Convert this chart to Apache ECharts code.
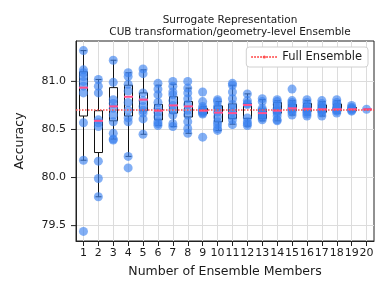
<!DOCTYPE html>
<html><head><meta charset="utf-8">
<script src="https://cdn.jsdelivr.net/npm/echarts@6/dist/echarts.min.js"></script>
<style>html,body{margin:0;padding:0;background:#fff}#c{width:388px;height:295px}</style>
</head><body><div id="c"></div>
<script>
const categories = ['1','2','3','4','5','6','7','8','9','10','11','12','13','14','15','16','17','18','19','20'];
const whiskerLow  = [80.18, 79.80, 80.40, 80.22, 80.45, 80.54, 80.53, 80.46, 80.655, 80.49, 80.555, 80.535, 80.59, 80.59, 80.65, 80.65, 80.64, 80.67, 80.685, 80.71];
const quartile1   = [80.64, 80.26, 80.59, 80.64, 80.695, 80.60, 80.67, 80.63, 80.665, 80.58, 80.615, 80.615, 80.615, 80.67, 80.695, 80.69, 80.68, 80.695, 80.695, 80.71];
const medians     = [80.935, 80.59, 80.74, 80.84, 80.81, 80.695, 80.75, 80.74, 80.695, 80.675, 80.67, 80.755, 80.67, 80.695, 80.72, 80.715, 80.71, 80.71, 80.71, 80.71];
const quartile3   = [81.10, 80.695, 80.935, 80.96, 80.88, 80.76, 80.84, 80.79, 80.72, 80.745, 80.765, 80.77, 80.71, 80.78, 80.76, 80.77, 80.755, 80.765, 80.73, 80.71];
const whiskerHigh = [81.32, 81.02, 81.22, 81.09, 81.12, 80.96, 80.97, 80.93, 80.74, 80.79, 80.96, 80.87, 80.81, 80.80, 80.80, 80.80, 80.79, 80.80, 80.74, 80.71];
const memberAccuracies = [
  [81.32, 81.12, 81.09, 81.05, 81.0, 80.95, 80.88, 80.57, 80.18, 79.44],
  [81.02, 80.95, 80.88, 80.6, 80.57, 80.53, 80.17, 79.99, 79.8],
  [81.22, 80.99, 80.81, 80.77, 80.72, 80.65, 80.58, 80.46, 80.40, 80.39],
  [81.09, 81.05, 80.97, 80.9, 80.78, 80.7, 80.62, 80.58, 80.22, 80.10],
  [81.13, 81.08, 80.88, 80.80, 80.74, 80.70, 80.67, 80.61, 80.45],
  [80.98, 80.92, 80.86, 80.78, 80.72, 80.68, 80.63, 80.58, 80.56, 80.54],
  [81.0, 80.95, 80.89, 80.86, 80.80, 80.75, 80.70, 80.65, 80.56, 80.53],
  [81.0, 80.93, 80.88, 80.82, 80.76, 80.70, 80.65, 80.58, 80.51, 80.46],
  [80.89, 80.79, 80.74, 80.72, 80.70, 80.69, 80.68, 80.67, 80.66, 80.42],
  [80.81, 80.79, 80.74, 80.72, 80.68, 80.63, 80.58, 80.55, 80.51, 80.49],
  [80.98, 80.96, 80.89, 80.82, 80.76, 80.72, 80.68, 80.64, 80.60, 80.55],
  [80.87, 80.80, 80.77, 80.76, 80.62, 80.58, 80.56, 80.54],
  [80.82, 80.79, 80.72, 80.70, 80.68, 80.66, 80.64, 80.62, 80.60],
  [80.81, 80.79, 80.76, 80.72, 80.70, 80.69, 80.67, 80.64, 80.60, 80.59],
  [80.92, 80.80, 80.78, 80.76, 80.74, 80.72, 80.71, 80.70, 80.68, 80.65],
  [80.81, 80.78, 80.75, 80.73, 80.71, 80.70, 80.68, 80.66, 80.64],
  [80.80, 80.77, 80.75, 80.73, 80.71, 80.70, 80.69, 80.67, 80.64],
  [80.81, 80.78, 80.76, 80.73, 80.72, 80.71, 80.70, 80.69, 80.67],
  [80.75, 80.73, 80.72, 80.71, 80.70, 80.69],
  [80.71]
];
const fullEnsemble = 80.705;
const yTicks = [79.5, 80.0, 80.5, 81.0];

const FONT = 'DejaVu Sans';
const boxData = categories.map((c, i) => [i, whiskerLow[i], quartile1[i], medians[i], quartile3[i], whiskerHigh[i]]);
const medianData = categories.map((c, i) => [i, medians[i]]);
const pointData = [];
memberAccuracies.forEach((arr, i) => arr.forEach(v => pointData.push([i, v])));

const chart = echarts.init(document.getElementById('c'), null, {renderer: 'canvas'});
chart.setOption({
  animation: false,
  backgroundColor: '#fff',
  title: {
    text: 'Surrogate Representation\nCUB transformation/geometry-level Ensemble',
    left: 225, top: 9, textAlign: 'center',
    textStyle: {fontFamily: FONT, fontSize: 10.5, fontWeight: 'normal', color: '#1a1a1a', lineHeight: 12.5}
  },
  legend: {
    data: ['Full Ensemble'],
    right: 20, top: 47,
    itemWidth: 26, itemHeight: 4, itemGap: 4,
    padding: [4, 6, 4, 4],
    backgroundColor: '#fff', borderColor: '#d0d0d0', borderWidth: 1, borderRadius: 3,
    textStyle: {fontFamily: FONT, fontSize: 11.5, color: '#1a1a1a'}
  },
  grid: {left: 76, right: 14, top: 41, bottom: 54, show: true, borderColor: '#222', borderWidth: 1, backgroundColor: '#fff'},
  xAxis: {
    type: 'category', data: categories, boundaryGap: true,
    name: 'Number of Ensemble Members', nameLocation: 'middle', nameGap: 24,
    nameTextStyle: {fontFamily: FONT, fontSize: 12.5, color: '#1a1a1a'},
    axisLine: {show: true, lineStyle: {color: '#222'}},
    axisTick: {show: true, alignWithLabel: true, length: 5, lineStyle: {color: '#222'}},
    axisLabel: {interval: 0, margin: 7, fontFamily: FONT, fontSize: 11, color: '#1a1a1a'},
    splitLine: {show: true, alignWithLabel: true, lineStyle: {color: '#dcdcdc', width: 1}}
  },
  yAxis: {
    type: 'value', min: 79.34, max: 81.42, interval: 0.02,
    name: 'Accuracy', nameLocation: 'middle', nameGap: 50,
    nameTextStyle: {fontFamily: FONT, fontSize: 12.5, color: '#1a1a1a'},
    axisLine: {show: true, lineStyle: {color: '#222'}},
    axisTick: {show: false},
    splitLine: {show: false},
    axisLabel: {
      margin: 0, showMinLabel: true, showMaxLabel: true,
      formatter: function (v) {
        const m = yTicks.find(t => Math.abs(t - v) < 1e-6);
        return m === undefined ? '' : '{v|' + m.toFixed(1) + '}{t|}';
      },
      rich: {
        v: {fontFamily: FONT, fontSize: 11, color: '#1a1a1a', padding: [0, 5, 0, 0]},
        t: {width: 5, height: 1, lineHeight: 1, backgroundColor: '#222'}
      }
    }
  },
  series: [
    {
      name: 'grid', type: 'line', data: [], silent: true, z: 0,
      markLine: {silent: true, symbol: 'none', label: {show: false}, z: 0,
        lineStyle: {color: '#dcdcdc', type: 'solid', width: 1},
        data: yTicks.map(t => ({yAxis: t}))}
    },
    {
      name: 'Full Ensemble', type: 'line', data: [], symbol: 'none', z: 5,
      color: '#ff4d4d',
      lineStyle: {color: '#ff4d4d', type: [1.5, 1.5], width: 1.5},
      markLine: {silent: true, symbol: 'none', label: {show: false}, z: 5,
        lineStyle: {color: '#ff4d4d', type: [1.5, 1.5], width: 1.5},
        data: [{yAxis: fullEnsemble}]}
    },
    {
      name: 'boxes', type: 'custom', z: 2, silent: true,
      data: boxData,
      encode: {x: 0, y: [1, 2, 3, 4, 5]},
      renderItem: function (params, api) {
        const x = api.value(0);
        const lo = api.coord([x, api.value(1)]);
        const q1 = api.coord([x, api.value(2)]);
        const q3 = api.coord([x, api.value(4)]);
        const hi = api.coord([x, api.value(5)]);
        const cx = Math.round(lo[0]) + 0.5;
        const hw = 4, cw = 3;
        const ls = {stroke: '#111', lineWidth: 1};
        return {type: 'group', children: [
          {type: 'line', shape: {x1: cx, y1: hi[1], x2: cx, y2: q3[1]}, style: ls},
          {type: 'line', shape: {x1: cx, y1: q1[1], x2: cx, y2: lo[1]}, style: ls},
          {type: 'line', shape: {x1: cx - cw, y1: hi[1], x2: cx + cw, y2: hi[1]}, style: ls},
          {type: 'line', shape: {x1: cx - cw, y1: lo[1], x2: cx + cw, y2: lo[1]}, style: ls},
          {type: 'rect', shape: {x: cx - hw, y: q3[1], width: 2 * hw, height: Math.max(q1[1] - q3[1], 0.5)},
           style: {fill: '#fff', stroke: '#111', lineWidth: 1}}
        ]};
      }
    },
    {
      name: 'points', type: 'scatter', data: pointData, z: 3, silent: true,
      symbolSize: 9,
      itemStyle: {color: 'rgba(60,130,240,0.8)'}
    },
    {
      name: 'medians', type: 'custom', z: 4, silent: true,
      data: medianData,
      encode: {x: 0, y: 1},
      renderItem: function (params, api) {
        const p = api.coord([api.value(0), api.value(1)]);
        const cx = Math.round(p[0]) + 0.5;
        return {type: 'line', shape: {x1: cx - 4.5, y1: p[1], x2: cx + 4.5, y2: p[1]},
          style: {stroke: '#ff4f8f', lineWidth: 2}};
      }
    }
  ]
});
</script>
</body></html>
